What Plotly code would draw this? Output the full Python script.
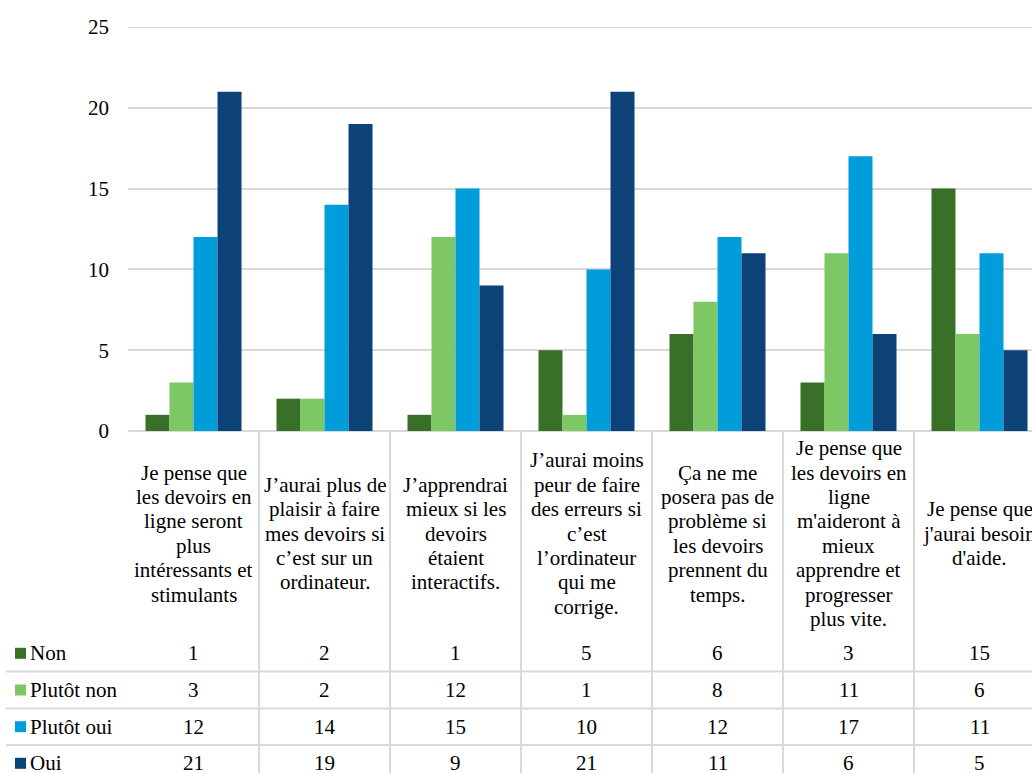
import plotly.graph_objects as go

# Survey answers per statement
categories = [
    "Je pense que<br>les devoirs en<br>ligne seront<br>plus<br>intéressants et<br>stimulants",
    "J’aurai plus de<br>plaisir à faire<br>mes devoirs si<br>c’est sur un<br>ordinateur.",
    "J’apprendrai<br>mieux si les<br>devoirs<br>étaient<br>interactifs.",
    "J’aurai moins<br>peur de faire<br>des erreurs si<br>c’est<br>l’ordinateur<br>qui me<br>corrige.",
    "Ça ne me<br>posera pas de<br>problème si<br>les devoirs<br>prennent du<br>temps.",
    "Je pense que<br>les devoirs en<br>ligne<br>m'aideront à<br>mieux<br>apprendre et<br>progresser<br>plus vite.",
    "Je pense que<br>j'aurai besoin<br>d'aide.",
]
series_names = ["Non", "Plutôt non", "Plutôt oui", "Oui"]
non = [1, 2, 1, 5, 6, 3, 15]
plutot_non = [3, 2, 12, 1, 8, 11, 6]
plutot_oui = [12, 14, 15, 10, 12, 17, 11]
oui = [21, 19, 9, 21, 11, 6, 5]
series_values = [non, plutot_non, plutot_oui, oui]
colors = ["#387028", "#7dc864", "#009ddb", "#0c4278"]
y_ticks = [0, 5, 10, 15, 20, 25]

W, H = 1032, 773
FONT = "Liberation Serif, Times New Roman, DejaVu Serif, serif"
FS = 21
GRID = "#d9d9d9"

def py(px):
    """pixel row -> paper y"""
    return 1 - px / H

def pxx(px):
    return px / W

plot_left, plot_top, plot_bottom = 128, 27, 431
cat_w = 131
n_vis = (W - plot_left) / cat_w

x = list(range(len(categories)))
fig = go.Figure()
for name, vals, col in zip(series_names, series_values, colors):
    fig.add_trace(go.Bar(x=x, y=vals, name=name, marker_color=col,
                         marker_line_width=0, showlegend=False))

shapes = []
annotations = []

# top gridline (at the edge of the value range)
shapes.append(dict(type="line", xref="paper", yref="y", x0=pxx(plot_left), x1=1,
                   y0=y_ticks[-1], y1=y_ticks[-1], line=dict(color=GRID, width=2),
                   layer="below"))

# vertical separators of the data table
for k in range(len(categories) - 1):
    shapes.append(dict(type="line", xref="x", yref="paper", x0=k + 0.5, x1=k + 0.5,
                       y0=0, y1=py(plot_bottom), line=dict(color=GRID, width=2)))

# horizontal separators between table rows
for ypx in [671.5, 708.5, 745]:
    shapes.append(dict(type="line", xref="paper", yref="paper", x0=pxx(6), x1=1,
                       y0=py(ypx), y1=py(ypx), line=dict(color=GRID, width=2)))

# category labels, one annotation per line, centered in the header band
label_center = 533.5
line_h = 24.4
for j, lab in enumerate(categories):
    lines = lab.split("<br>")
    n = len(lines)
    for i, ln in enumerate(lines):
        ypx = label_center + (i - (n - 1) / 2) * line_h
        annotations.append(dict(xref="x", yref="paper", x=j, y=py(ypx), text=ln,
                                showarrow=False, xanchor="center", yanchor="middle",
                                font=dict(family=FONT, size=FS, color="black")))

# table rows: legend key + values
row_centers = [653.3, 690, 726.7, 763.3]
for name, vals, col, rc in zip(series_names, series_values, colors, row_centers):
    shapes.append(dict(type="rect", xref="paper", yref="paper",
                       x0=pxx(15), x1=pxx(26), y0=py(rc + 5.5), y1=py(rc - 5.5),
                       fillcolor=col, line=dict(width=0)))
    annotations.append(dict(xref="paper", yref="paper", x=pxx(28), y=py(rc), text=name,
                            showarrow=False, xanchor="left", yanchor="middle",
                            font=dict(family=FONT, size=FS, color="black")))
    for j, v in enumerate(vals):
        annotations.append(dict(xref="x", yref="paper", x=j, y=py(rc), text=str(v),
                                showarrow=False, xanchor="center", yanchor="middle",
                                font=dict(family=FONT, size=FS, color="black")))

fig.update_layout(
    template="none",
    width=W, height=H, autosize=False,
    margin=dict(l=0, r=0, t=0, b=0, pad=0),
    paper_bgcolor="white", plot_bgcolor="white",
    barmode="group", bargap=0.267, bargroupgap=0,
    shapes=shapes, annotations=annotations,
    xaxis=dict(domain=[pxx(plot_left), 1], range=[-0.5, -0.5 + n_vis],
               showticklabels=False, showgrid=False, zeroline=False, showline=False,
               ticks="", automargin=False),
    yaxis=dict(domain=[py(plot_bottom), py(plot_top)], range=[0, 25],
               tickvals=y_ticks, showgrid=True, gridcolor=GRID, gridwidth=2,
               zeroline=True, zerolinecolor=GRID, zerolinewidth=2,
               showline=False, ticks="", ticklabelstandoff=18, automargin=False,
               tickfont=dict(family=FONT, size=FS, color="black")),
    font=dict(family=FONT, size=FS, color="black"),
)

fig.write_html("out.html")
